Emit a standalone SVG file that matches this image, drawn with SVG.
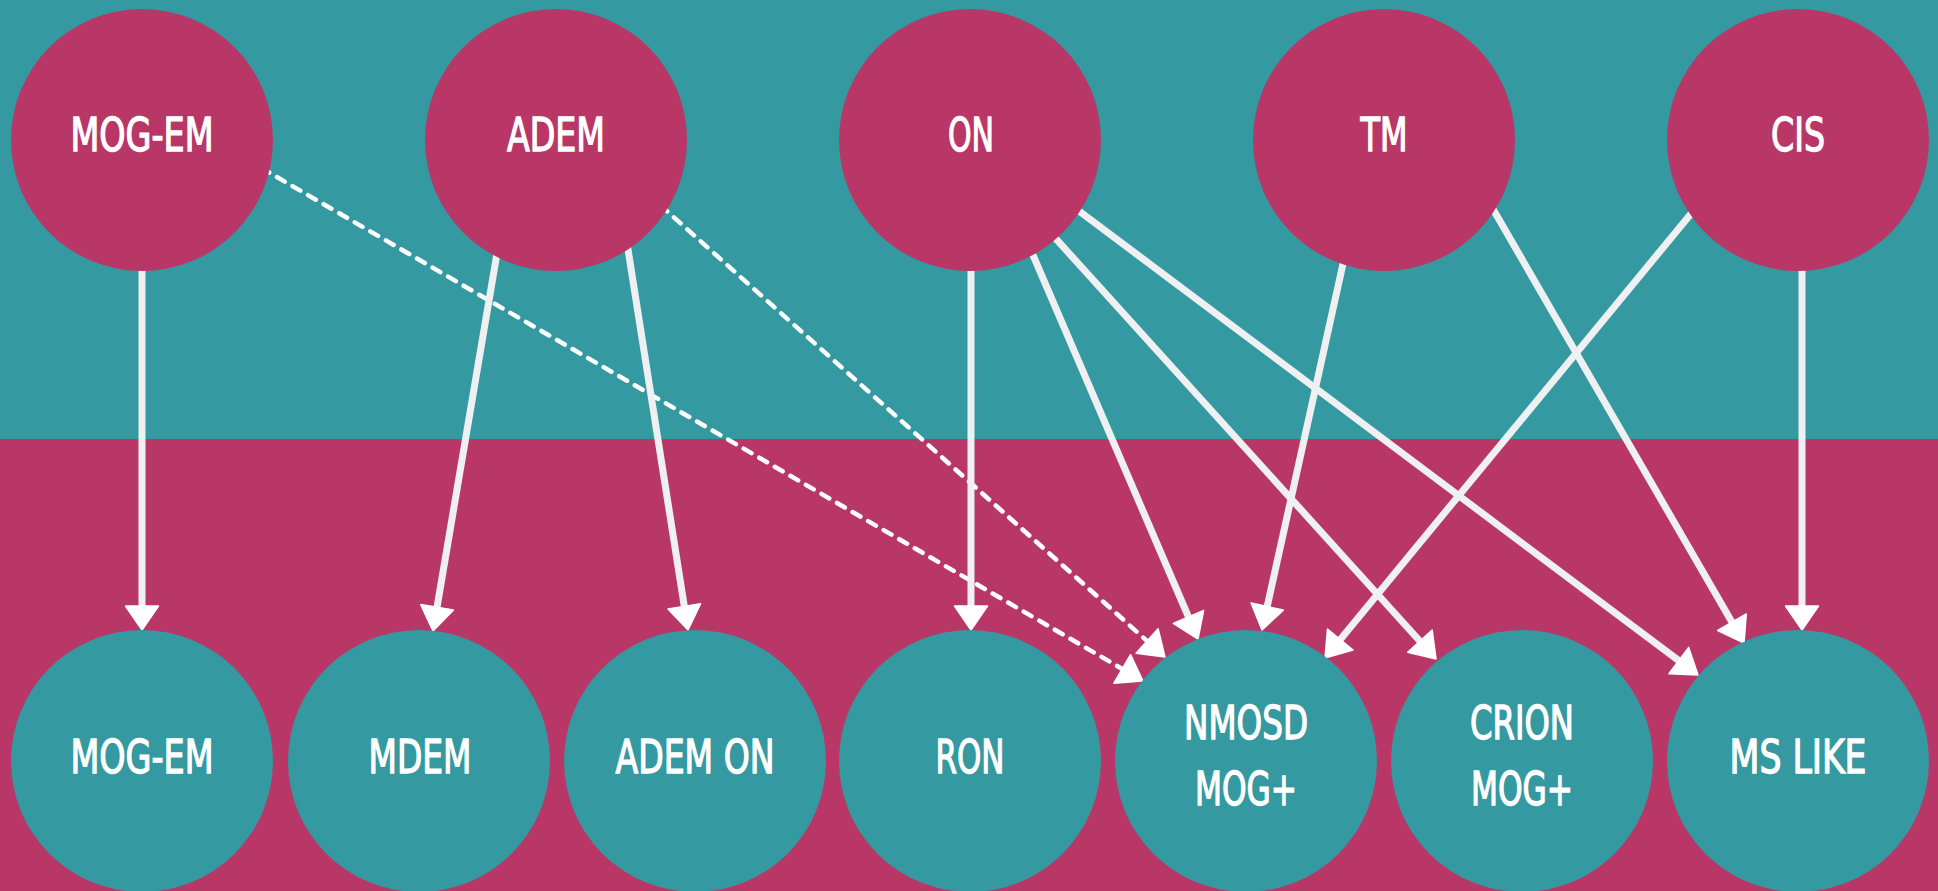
<svg xmlns="http://www.w3.org/2000/svg" width="1938" height="891" viewBox="0 0 1938 891">
<style>
.top{fill:#b93766}
.bot{fill:#3499a0}
.lbl{fill:#ffffff;stroke:#ffffff;stroke-width:1.3;font-family:"DejaVu Sans Condensed","Liberation Sans",sans-serif;font-size:47px;text-anchor:middle}
.e{stroke:#eff0f2;stroke-width:7;fill:none;marker-end:url(#ah)}
.d{stroke:#ffffff;stroke-width:4.5;fill:none;stroke-dasharray:9 9;stroke-linecap:round;marker-end:url(#ah)}
</style>
<defs>
<marker id="ah" viewBox="0 0 24 33" refX="18" refY="16.5" markerWidth="24" markerHeight="33" markerUnits="userSpaceOnUse" orient="auto" overflow="visible">
<path d="M0,0 L24,16.5 L0,33 Z" fill="#ffffff" stroke="#ffffff" stroke-width="1.5" stroke-linejoin="round"/>
</marker>
</defs>
<rect x="0" y="0" width="1938" height="439" fill="#3499a0"/>
<rect x="0" y="439" width="1938" height="452" fill="#b93766"/>
<g id="connectors">
<line class="e" x1="142" y1="260" x2="142" y2="624"/>
<line class="d" x1="261.4" y1="168" x2="1137.8" y2="678"/>
<line class="e" x1="498.1" y1="246.8" x2="434" y2="625.1"/>
<line class="e" x1="627" y1="243" x2="687.1" y2="624.1"/>
<line class="d" x1="660.5" y1="205.3" x2="1160.5" y2="653"/>
<line class="e" x1="971" y1="260" x2="971" y2="624"/>
<line class="e" x1="1029" y1="245.8" x2="1195.6" y2="633.5"/>
<line class="e" x1="1050.3" y1="232.6" x2="1432" y2="654.5"/>
<line class="e" x1="1072" y1="205.7" x2="1693.2" y2="671.4"/>
<line class="e" x1="1344.9" y1="255.2" x2="1263.3" y2="624.1"/>
<line class="e" x1="1489.5" y1="203" x2="1741" y2="637.8"/>
<line class="e" x1="1694.9" y1="209" x2="1328.8" y2="653.4"/>
<line class="e" x1="1802" y1="260" x2="1802" y2="624"/>
</g>
<g id="n-mogem-top"><circle class="top" cx="142" cy="140" r="131"/><text class="lbl" x="142" y="151" textLength="143" lengthAdjust="spacingAndGlyphs">MOG-EM</text></g>
<g id="n-adem-top"><circle class="top" cx="556" cy="140" r="131"/><text class="lbl" x="556" y="151" textLength="98" lengthAdjust="spacingAndGlyphs">ADEM</text></g>
<g id="n-on-top"><circle class="top" cx="970" cy="140" r="131"/><text class="lbl" x="971" y="151" textLength="46" lengthAdjust="spacingAndGlyphs">ON</text></g>
<g id="n-tm-top"><circle class="top" cx="1384" cy="140" r="131"/><text class="lbl" x="1384" y="151" textLength="47" lengthAdjust="spacingAndGlyphs">TM</text></g>
<g id="n-cis-top"><circle class="top" cx="1798" cy="140" r="131"/><text class="lbl" x="1798" y="151" textLength="54" lengthAdjust="spacingAndGlyphs">CIS</text></g>
<g id="n-mogem-bot"><circle class="bot" cx="142" cy="761" r="131"/><text class="lbl" x="142" y="773" textLength="143" lengthAdjust="spacingAndGlyphs">MOG-EM</text></g>
<g id="n-mdem"><circle class="bot" cx="419" cy="761" r="131"/><text class="lbl" x="420" y="773" textLength="103" lengthAdjust="spacingAndGlyphs">MDEM</text></g>
<g id="n-ademon"><circle class="bot" cx="695" cy="761" r="131"/><text class="lbl" x="695" y="773" textLength="159" lengthAdjust="spacingAndGlyphs">ADEM ON</text></g>
<g id="n-ron"><circle class="bot" cx="970" cy="761" r="131"/><text class="lbl" x="970" y="773" textLength="69" lengthAdjust="spacingAndGlyphs">RON</text></g>
<g id="n-nmosd"><circle class="bot" cx="1246" cy="761" r="131"/><text class="lbl" x="1246" y="739" textLength="124" lengthAdjust="spacingAndGlyphs">NMOSD</text><text class="lbl" x="1246" y="805" textLength="102" lengthAdjust="spacingAndGlyphs">MOG+</text></g>
<g id="n-crion"><circle class="bot" cx="1522" cy="761" r="131"/><text class="lbl" x="1522" y="739" textLength="104" lengthAdjust="spacingAndGlyphs">CRION</text><text class="lbl" x="1522" y="805" textLength="102" lengthAdjust="spacingAndGlyphs">MOG+</text></g>
<g id="n-mslike"><circle class="bot" cx="1798" cy="761" r="131"/><text class="lbl" x="1798" y="773" textLength="137" lengthAdjust="spacingAndGlyphs">MS LIKE</text></g>
</svg>
